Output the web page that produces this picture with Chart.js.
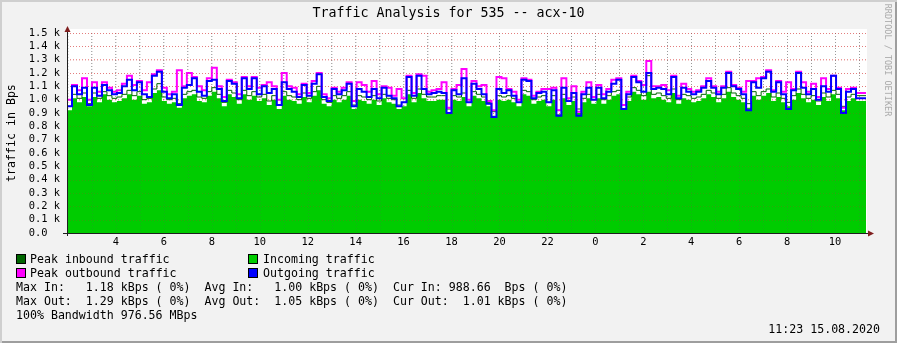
<!DOCTYPE html>
<html>
<head>
<meta charset="utf-8">
<script src="https://cdn.jsdelivr.net/npm/chart.js@4.4.1/dist/chart.umd.min.js"></script>
<style>
body { margin: 0; }
#frame {
	position: relative; width: 897px; height: 343px; background: #F2F2F2;
	box-shadow: inset 2px 2px 0 #CFCFCF, inset -2px -2px 0 #9E9E9E;
	font-family: "DejaVu Sans Mono", monospace; color: #000;
}
#graph { position: absolute; left: 0; top: 0; }
.txt { position: absolute; white-space: pre; font-size: 11.6px; line-height: 14px; }
.box { position: absolute; width: 10px; height: 10px; box-sizing: border-box; border: 1px solid #000; }
</style>
</head>
<body>
<div id="frame">
	<canvas id="graph" width="897" height="343"></canvas>
	<div class="txt" style="left:0;top:5px;width:897px;text-align:center;font-size:13.3px;line-height:16px;">Traffic Analysis for 535 -- acx-10</div>
	<div class="txt" style="left:-49px;top:126px;width:120px;text-align:center;transform:rotate(-90deg);">traffic in Bps</div>
	<div class="txt" style="left:823px;top:54px;width:130px;text-align:center;font-size:8.5px;line-height:12px;color:#AAAAAA;transform:rotate(90deg);">RRDTOOL / TOBI OETIKER</div>

	<div class="box" style="left:16px;top:254px;background:#006600;"></div>
	<div class="txt" style="left:30px;top:252px;">Peak inbound traffic</div>
	<div class="box" style="left:248px;top:254px;background:#00CC00;"></div>
	<div class="txt" style="left:263px;top:252px;">Incoming traffic</div>
	<div class="box" style="left:16px;top:268px;background:#FF00FF;"></div>
	<div class="txt" style="left:30px;top:266px;">Peak outbound traffic</div>
	<div class="box" style="left:248px;top:268px;background:#0000FF;"></div>
	<div class="txt" style="left:263px;top:266px;">Outgoing traffic</div>

	<div class="txt" style="left:16px;top:280px;">Max In:   1.18 kBps ( 0%)  Avg In:   1.00 kBps ( 0%)  Cur In: 988.66  Bps ( 0%)</div>
	<div class="txt" style="left:16px;top:294px;">Max Out:  1.29 kBps ( 0%)  Avg Out:  1.05 kBps ( 0%)  Cur Out:  1.01 kBps ( 0%)</div>
	<div class="txt" style="left:16px;top:308px;">100% Bandwidth 976.56 MBps</div>
	<div class="txt" style="right:17px;top:322px;">11:23 15.08.2020</div>
</div>
<script>
/* time range in hours since midnight of the first day */
const startHour = 1.96;
const endHour = 35.29;

/* values in kBps, one per 12.5 min */
const incoming = [
	0.99,0.92,1.01,0.98,1.02,0.95,1.02,0.98,1.04,1.00,0.98,0.99,1.01,1.04,1.00,1.03,0.97,0.98,1.05,1.07,0.99,0.97,0.98,0.94,1.01,1.03,1.04,0.99,0.98,1.03,1.06,1.01,0.95,1.04,1.02,0.97,1.04,1.00,1.03,0.99,
	1.01,0.96,1.00,0.93,1.03,1.00,0.99,0.97,1.02,0.98,1.03,1.07,0.97,0.95,1.00,0.98,1.00,1.03,0.93,1.00,0.99,0.97,1.00,0.96,1.01,0.98,0.97,0.93,0.95,1.04,0.98,1.05,1.01,0.99,0.99,1.00,1.00,0.90,1.00,0.99,
	1.02,0.95,1.03,1.01,0.99,0.95,0.88,1.00,0.99,1.00,0.98,0.95,1.04,1.03,0.97,0.99,1.00,0.95,1.00,0.89,1.01,0.96,0.99,0.90,0.98,1.01,0.97,1.01,0.97,1.00,1.03,1.04,0.93,0.99,1.06,1.04,1.00,1.06,1.01,1.02,
	1.00,0.98,1.05,0.97,1.01,1.00,0.98,0.99,1.01,1.04,1.02,0.98,1.01,1.06,1.02,1.00,0.98,0.94,1.03,1.00,1.03,1.05,0.99,1.02,0.98,0.95,1.00,1.05,1.01,0.98,1.00,0.96,1.02,0.99,1.04,1.01,0.92,0.99,1.01,0.99
];
const peakIn = [
	1.02,0.95,1.04,1.01,1.05,0.97,1.05,1.01,1.06,1.03,1.01,1.02,1.04,1.07,1.03,1.06,1.00,1.01,1.08,1.12,1.02,1.00,1.01,0.97,1.04,1.06,1.07,1.02,1.01,1.06,1.09,1.04,0.98,1.07,1.05,1.00,1.07,1.03,1.06,1.02,
	1.04,0.99,1.03,0.96,1.06,1.03,1.02,1.00,1.05,1.01,1.06,1.10,1.00,0.98,1.03,1.01,1.03,1.06,0.96,1.03,1.02,1.00,1.03,0.99,1.04,1.01,1.00,0.96,0.98,1.07,1.01,1.08,1.04,1.02,1.02,1.03,1.03,0.93,1.03,1.02,
	1.05,0.98,1.06,1.04,1.02,0.98,0.91,1.03,1.02,1.03,1.01,0.98,1.07,1.06,1.00,1.02,1.03,0.98,1.03,0.92,1.04,0.99,1.02,0.93,1.01,1.04,1.00,1.04,1.00,1.03,1.06,1.07,0.96,1.02,1.09,1.07,1.03,1.18,1.04,1.05,
	1.03,1.01,1.08,1.00,1.04,1.03,1.01,1.02,1.04,1.07,1.05,1.01,1.04,1.09,1.05,1.03,1.01,0.97,1.06,1.03,1.06,1.08,1.02,1.05,1.01,0.98,1.03,1.08,1.04,1.01,1.03,0.99,1.05,1.02,1.07,1.04,0.95,1.02,1.04,1.03
];
const outgoing = [
	1.03,0.95,1.10,1.04,1.09,0.96,1.09,1.03,1.11,1.07,1.04,1.05,1.10,1.15,1.07,1.13,1.04,1.02,1.18,1.21,1.06,1.01,1.04,0.96,1.09,1.11,1.16,1.06,1.03,1.14,1.15,1.08,0.99,1.14,1.12,1.01,1.16,1.08,1.16,1.04,
	1.10,1.05,1.08,0.96,1.13,1.08,1.06,1.02,1.11,1.03,1.12,1.19,1.02,0.99,1.08,1.04,1.07,1.12,0.95,1.08,1.06,1.02,1.08,1.01,1.09,1.03,1.01,0.95,0.98,1.17,1.03,1.18,1.08,1.04,1.05,1.06,1.05,0.90,1.07,1.04,
	1.16,0.98,1.12,1.08,1.04,0.97,0.87,1.08,1.05,1.07,1.03,0.98,1.15,1.14,1.01,1.05,1.06,0.98,1.07,0.88,1.09,0.99,1.05,0.88,1.04,1.09,1.00,1.09,1.01,1.06,1.12,1.15,0.93,1.04,1.17,1.13,1.06,1.20,1.08,1.09,
	1.08,1.04,1.17,1.01,1.09,1.06,1.04,1.06,1.09,1.14,1.09,1.04,1.09,1.20,1.10,1.08,1.04,0.92,1.13,1.09,1.16,1.21,1.06,1.13,1.04,0.93,1.07,1.20,1.09,1.04,1.08,1.00,1.10,1.06,1.18,1.08,0.90,1.06,1.08,1.01
];
const peakOut = [
	1.04,1.00,1.11,1.07,1.16,1.00,1.13,1.06,1.13,1.09,1.06,1.07,1.12,1.18,1.11,1.14,1.07,1.13,1.19,1.22,1.09,1.04,1.06,1.22,1.10,1.20,1.17,1.10,1.07,1.16,1.24,1.10,1.02,1.15,1.13,1.04,1.17,1.10,1.17,1.09,
	1.11,1.13,1.10,1.00,1.20,1.10,1.09,1.04,1.12,1.05,1.14,1.20,1.04,1.01,1.09,1.06,1.09,1.13,0.99,1.13,1.11,1.06,1.14,1.04,1.10,1.09,1.03,1.08,1.01,1.18,1.05,1.19,1.18,1.06,1.07,1.08,1.13,0.94,1.08,1.11,
	1.23,1.00,1.14,1.10,1.11,0.99,0.92,1.17,1.16,1.08,1.06,1.00,1.16,1.15,1.03,1.06,1.08,1.08,1.09,0.92,1.16,1.01,1.10,0.91,1.06,1.13,1.02,1.11,1.04,1.08,1.15,1.16,0.96,1.06,1.18,1.14,1.11,1.29,1.10,1.10,
	1.11,1.07,1.18,1.03,1.12,1.08,1.06,1.07,1.10,1.16,1.10,1.06,1.10,1.21,1.11,1.09,1.06,1.14,1.14,1.16,1.17,1.22,1.07,1.14,1.06,1.13,1.08,1.21,1.13,1.06,1.12,1.02,1.16,1.08,1.18,1.09,0.94,1.08,1.09,1.05
];

const stepHours = (endHour - startHour) / incoming.length;
const times = incoming.map((v, i) => startHour + i * stepHours);

function toPoints(vals) {
	var pts = vals.map((v, i) => ({x: times[i], y: v}));
	pts.push({x: endHour, y: vals[vals.length - 1]});
	return pts;
}

function dottedLine(ctx, x1, y1, x2, y2) {
	ctx.beginPath();
	ctx.moveTo(x1, y1);
	ctx.lineTo(x2, y2);
	ctx.stroke();
}

/* white canvas, faint grid over the graph, axes and arrows like rrdtool */
const rrdFrame = {
	id: 'rrdFrame',
	beforeDraw(chart) {
		var ctx = chart.ctx, a = chart.chartArea;
		ctx.save();
		ctx.fillStyle = '#FFFFFF';
		ctx.fillRect(a.left, a.top - 4, a.right - a.left + 1, a.bottom - a.top + 4);
		ctx.restore();
	},
	afterDatasetsDraw(chart) {
		var ctx = chart.ctx, a = chart.chartArea;
		var xs = chart.scales.x, ys = chart.scales.y;
		ctx.save();
		ctx.lineWidth = 1;
		ctx.setLineDash([1, 2]);
		ctx.strokeStyle = 'rgba(200,40,40,0.22)';
		ys.ticks.forEach(t => {
			var y = Math.round(ys.getPixelForValue(t.value)) + 0.5;
			dottedLine(ctx, a.left, y, a.right, y);
		});
		ctx.strokeStyle = 'rgba(90,90,90,0.2)';
		xs.ticks.forEach(t => {
			var x = Math.round(xs.getPixelForValue(t.value)) + 0.5;
			dottedLine(ctx, x, a.top, x, a.bottom);
		});
		ctx.restore();
	},
	afterDraw(chart) {
		var ctx = chart.ctx, a = chart.chartArea;
		ctx.save();
		ctx.strokeStyle = '#1F1F1F';
		ctx.lineWidth = 1;
		ctx.beginPath();
		ctx.moveTo(a.left - 4, a.bottom + 0.5);
		ctx.lineTo(a.right + 3, a.bottom + 0.5);
		ctx.moveTo(a.left + 0.5, a.bottom + 3);
		ctx.lineTo(a.left + 0.5, a.top - 3);
		ctx.stroke();
		ctx.fillStyle = '#801F1F';
		ctx.beginPath();
		ctx.moveTo(a.left + 0.5, a.top - 7);
		ctx.lineTo(a.left - 2.5, a.top - 1);
		ctx.lineTo(a.left + 3.5, a.top - 1);
		ctx.fill();
		ctx.beginPath();
		ctx.moveTo(a.right + 8, a.bottom + 0.5);
		ctx.lineTo(a.right + 2, a.bottom - 2.5);
		ctx.lineTo(a.right + 2, a.bottom + 3.5);
		ctx.fill();
		ctx.restore();
	}
};

const tickFont = {family: 'DejaVu Sans Mono', size: 10.4};

function line(label, vals, color, width, order) {
	return {
		label: label, data: toPoints(vals), stepped: 'after', fill: false,
		borderColor: color, borderWidth: width, pointRadius: 0, order: order
	};
}

new Chart(document.getElementById('graph'), {
	type: 'line',
	data: {
		datasets: [
			{
				label: 'Incoming traffic', data: toPoints(incoming), stepped: 'after', fill: 'origin',
				backgroundColor: '#00CC00', borderColor: 'transparent', borderWidth: 0, pointRadius: 0, order: 4
			},
			line('Peak inbound traffic', peakIn, '#006600', 1, 3),
			line('Peak outbound traffic', peakOut, '#FF00FF', 2, 2),
			line('Outgoing traffic', outgoing, '#0000FF', 2, 1)
		]
	},
	options: {
		responsive: false,
		animation: false,
		devicePixelRatio: 1,
		events: [],
		layout: {padding: {top: 33, right: 31, left: 0, bottom: 0}},
		plugins: {legend: {display: false}, tooltip: {enabled: false}},
		scales: {
			x: {
				type: 'linear', min: startHour, max: endHour,
				afterFit(s) { s.height = 110; },
				border: {display: false, dash: [1, 2]},
				grid: {color: 'rgba(143,143,143,0.75)', drawTicks: false},
				ticks: {
					stepSize: 1, includeBounds: false, autoSkip: false, maxRotation: 0,
					padding: 3, color: '#000', font: tickFont,
					callback: (v) => (v > startHour + 0.5 && Math.round(v) % 2 === 0 ? String(Math.round(v) % 24) : '')
				}
			},
			y: {
				min: 0, max: 1.5,
				afterFit(s) { s.width = 67; },
				border: {display: false, dash: [1, 2]},
				grid: {color: 'rgba(222,79,79,0.6)', drawTicks: false},
				ticks: {
					stepSize: 0.1, autoSkip: false, padding: 7, color: '#000', font: tickFont,
					callback: (v) => (Math.abs(v) < 1e-9 ? '0.0  ' : v.toFixed(1) + ' k')
				}
			}
		}
	},
	plugins: [rrdFrame]
});
</script>
</body>
</html>
